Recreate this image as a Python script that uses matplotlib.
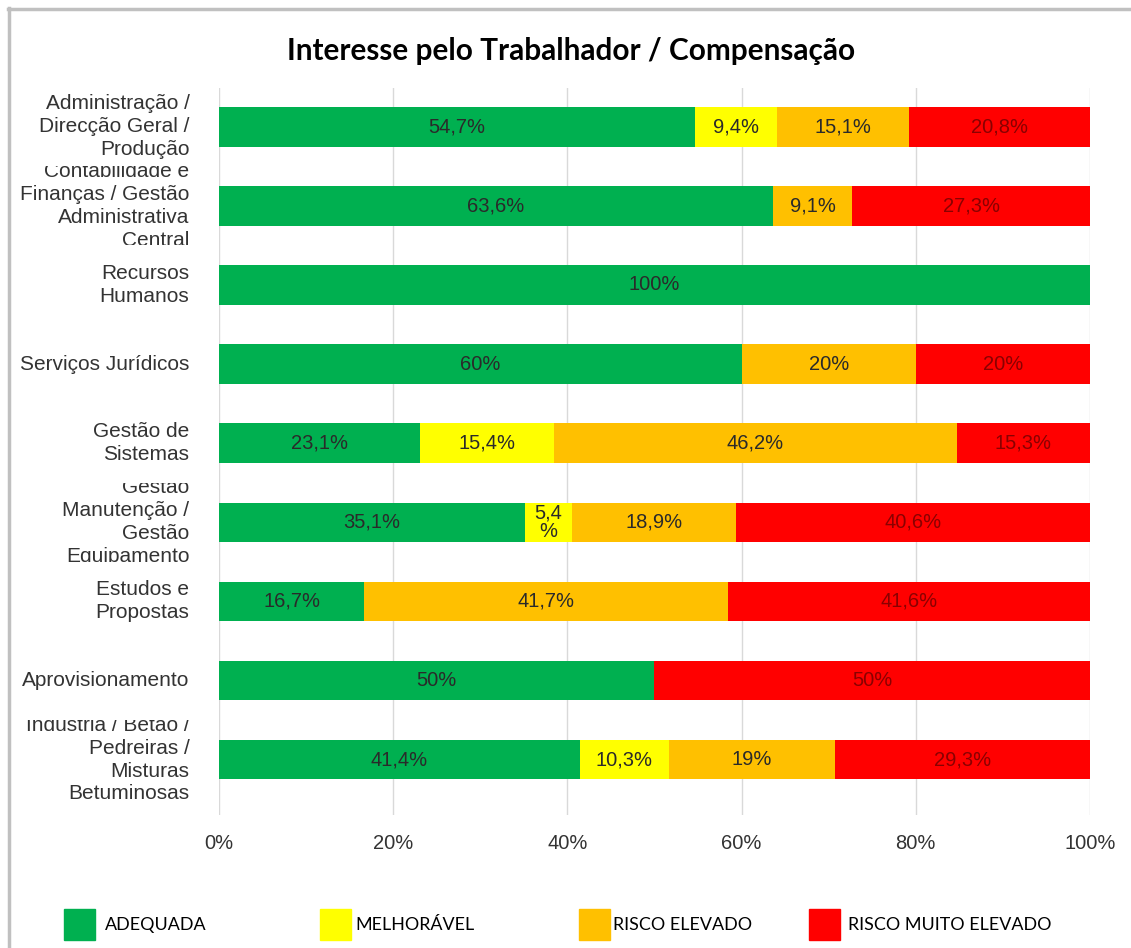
import matplotlib.pyplot as plt
from matplotlib.patches import Rectangle
from matplotlib.lines import Line2D

plt.rcParams['font.family'] = ['Liberation Sans', 'DejaVu Sans']

# data
cats = ['Administração /\nDirecção Geral /\nProdução',
        'Contabilidade e\nFinanças / Gestão\nAdministrativa\nCentral',
        'Recursos\nHumanos',
        'Serviços Jurídicos',
        'Gestão de\nSistemas',
        'Gestão\nManutenção /\nGestão\nEquipamento',
        'Estudos e\nPropostas',
        'Aprovisionamento',
        'Indústria / Betão /\nPedreiras /\nMisturas\nBetuminosas']
adequada = [54.7, 63.6, 100, 60, 23.1, 35.1, 16.7, 50, 41.4]
melhoravel = [9.4, 0, 0, 0, 15.4, 5.4, 0, 0, 10.3]
risco = [15.1, 9.1, 0, 20, 46.2, 18.9, 41.7, 0, 19]
muito = [20.8, 27.3, 0, 20, 15.3, 40.6, 41.6, 50, 29.3]
series_names = ['ADEQUADA', 'MELHORÁVEL', 'RISCO ELEVADO', 'RISCO MUITO ELEVADO']
colors = ['#00B050', '#FFFF00', '#FFC000', '#FF0000']
txt_colors = ['#2a2a2a', '#2a2a2a', '#2a2a2a', '#8a0000']
xticks = [0, 20, 40, 60, 80, 100]

fig = plt.figure(figsize=(11.31, 9.48), dpi=100)
ax = fig.add_axes([219/1131, 1-815/948, 871/1131, 727/948])

series = [adequada, melhoravel, risco, muito]
ypos = list(range(len(cats)))
left = [0]*len(cats)
for k, vals in enumerate(series):
    ax.barh(ypos, vals, left=left, height=0.5, color=colors[k], zorder=2)
    for i, v in enumerate(vals):
        if v > 0:
            s = ('%g' % v).replace('.', ',') + '%'
            if v < 6:
                s = s[:-1] + '\n%'
            ax.text(left[i] + v/2, i, s, ha='center', va='center', fontsize=14.5,
                    color=txt_colors[k], zorder=3, linespacing=0.95)
    left = [a + b for a, b in zip(left, vals)]

ax.set_xlim(0, 100)
ax.set_ylim(8.70, -0.49)
ax.set_xticks(xticks)
ax.set_xticklabels(['%d%%' % t for t in xticks], fontsize=14.5, color='#333333')
ax.set_yticks([])
ax.tick_params(axis='x', length=0, pad=14)
for sp in ax.spines.values():
    sp.set_visible(False)
ax.grid(axis='x', color='#d9d9d9', linewidth=1, zorder=0)

# category labels, clipped to their row as in the original
for i, c in enumerate(cats):
    clip = Rectangle((-0.3, i-0.5), 0.3, 1.0, transform=ax.get_yaxis_transform(),
                     fill=False, visible=False)
    ax.add_artist(clip)
    t = ax.text(-0.034, i, c, transform=ax.get_yaxis_transform(), ha='right', va='center',
                multialignment='right', fontsize=15, color='#333333', linespacing=1.26,
                clip_on=True)
    t.set_clip_path(clip)

fig.text(571/1131, 1-51/948, 'Interesse pelo Trabalhador / Compensação', ha='center',
         va='center', fontsize=21.4, fontweight='bold', family='Lato')

# legend
leg_x = [64, 320, 579, 809]
leg_tx = [105, 355, 613, 848]
for k in range(4):
    fig.patches.append(Rectangle((leg_x[k]/1131, 1-940/948), 31/1131, 31/948,
                                 transform=fig.transFigure, color=colors[k]))
    fig.text(leg_tx[k]/1131, 1-925/948, series_names[k], ha='left', va='center',
             fontsize=12.9, family='Lato')

# frame
fig.lines.append(Line2D([8/1131, 1], [1-9/948]*2, transform=fig.transFigure, color='#c0c0c0', lw=2.5))
fig.lines.append(Line2D([9/1131]*2, [0, 1-8/948], transform=fig.transFigure, color='#c0c0c0', lw=2.5))

fig.savefig('out.png', dpi=100)
